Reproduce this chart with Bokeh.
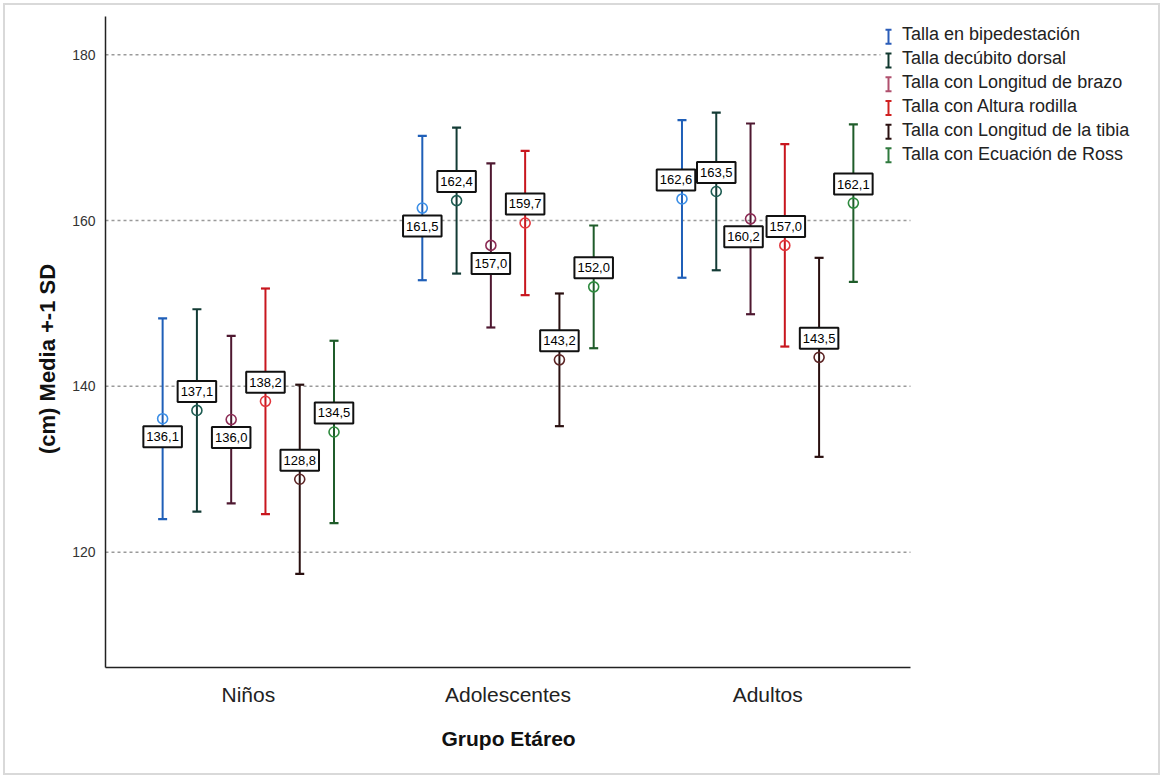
import numpy as np
from bokeh.plotting import figure
from bokeh.models import ColumnDataSource, Range1d, FixedTicker, Legend, LegendItem, Title
from bokeh.core.properties import value
from bokeh.embed import file_html
from bokeh.resources import INLINE

# --- data -------------------------------------------------------------------
grupos = ["Niños", "Adolescentes", "Adultos"]
series = [
    "Talla en bipedestación",
    "Talla decúbito dorsal",
    "Talla con Longitud de brazo",
    "Talla con Altura rodilla",
    "Talla con Longitud de la tibia",
    "Talla con Ecuación de Ross",
]

# mean height (cm) per group: Niños, Adolescentes, Adultos
media_bipedestacion = [136.1, 161.5, 162.6]
media_decubito = [137.1, 162.4, 163.5]
media_brazo = [136.0, 157.0, 160.2]
media_rodilla = [138.2, 159.7, 157.0]
media_tibia = [128.8, 143.2, 143.5]
media_ross = [134.5, 152.0, 162.1]

# standard deviation (cm) per group
sd_bipedestacion = [12.1, 8.7, 9.5]
sd_decubito = [12.2, 8.8, 9.5]
sd_brazo = [10.1, 9.9, 11.5]
sd_rodilla = [13.6, 8.7, 12.2]
sd_tibia = [11.4, 8.0, 12.0]
sd_ross = [11.0, 7.4, 9.5]

y_ticks = [120, 140, 160, 180]
x_title = "Grupo Etáreo"
y_title = "(cm) Media +-1 SD"

medias = [media_bipedestacion, media_decubito, media_brazo,
          media_rodilla, media_tibia, media_ross]
sds = [sd_bipedestacion, sd_decubito, sd_brazo, sd_rodilla, sd_tibia, sd_ross]

# --- styling ----------------------------------------------------------------
bar_colors = ["#1f5fb8", "#133b35", "#4e1830", "#c8161e", "#2a1010", "#1f5c2a"]
marker_colors = ["#3b8ee6", "#1d5c52", "#8c2c55", "#e2363c", "#5c2424", "#2e8a3e"]
legend_colors = ["#2a5cb8", "#10382f", "#b0506e", "#d02020", "#2a1010", "#2f7a3e"]

# value-label placement: +1 above the mean, -1 below (rows = series, cols = groups)
label_side = [
    [-1, -1, 1],
    [1, 1, 1],
    [-1, -1, -1],
    [1, 1, 1],
    [1, 1, 1],
    [1, 1, 1],
]
label_shift_x = [
    [0, 0, -6],
    [0, 0, 0],
    [0, 0, -7],
    [0, 0, 1],
    [0, 0, 0],
    [0, 0, 0],
]

SANS = "Liberation Sans"

PX_PER_UNIT = 805 / 3.1           # horizontal pixels per group
X0, AXIS_END = -0.55, 2.55        # visible extent of the category axis
Y0, Y1 = 106.1, 184.6
FRAME_W, FRAME_H = 1050, 651
X1 = X0 + FRAME_W / PX_PER_UNIT
step = 0.132

p = figure(
    width=1157, height=772,
    x_range=Range1d(X0, X1), y_range=Range1d(Y0, Y1),
    output_backend="svg", toolbar_location=None,
    min_border_left=100, min_border_right=1157 - 100 - FRAME_W,
    min_border_top=11, min_border_bottom=110,
    styles={"margin": "3px", "border": "2px solid #d9d9d9"},
)
p.outline_line_color = None
p.background_fill_color = "white"
p.border_fill_color = "white"

# axes
p.xaxis.ticker = FixedTicker(ticks=list(range(len(grupos))))
p.xaxis.major_label_overrides = {i: g for i, g in enumerate(grupos)}
p.xaxis.bounds = (X0, AXIS_END)
p.yaxis.ticker = FixedTicker(ticks=y_ticks)
for ax in (p.xaxis, p.yaxis):
    ax.axis_line_color = "#222222"
    ax.axis_line_width = 1.5
    ax.major_tick_line_color = None
    ax.minor_tick_line_color = None

p.xaxis.major_label_text_font = SANS
p.xaxis.major_label_text_font_size = "21px"
p.xaxis.major_label_text_color = "#222222"
p.xaxis.major_label_standoff = 9

p.yaxis.major_label_text_font = SANS
p.yaxis.major_label_text_font_size = "14px"
p.yaxis.major_label_text_color = "#333333"
p.yaxis.major_label_standoff = 4

p.xgrid.grid_line_color = None
p.ygrid.grid_line_color = None

# axis titles, centred on the drawn part of each axis
# (left-aligned titles shifted by half of their approximate rendered length)
axis_mid_px = (AXIS_END - X0) * PX_PER_UNIT / 2
x_title_len, y_title_len = 133, 194
p.add_layout(Title(text=x_title, align="left", offset=axis_mid_px - x_title_len / 2,
                   standoff=32, text_font=SANS, text_font_size="21px",
                   text_font_style="bold", text_color="#111111"), "below")
p.add_layout(Title(text=y_title, align="left", offset=FRAME_H / 2 - 15 - y_title_len / 2,
                   standoff=20, text_font=SANS, text_font_size="22px",
                   text_font_style="bold", text_color="#111111"), "left")

px_y = FRAME_H / (Y1 - Y0)

# legend geometry (frame pixels, from the top-left of the frame)
leg_top = 10
item_h, item_gap = 20.7, 3
icon_cx = 783
leg_left = icon_cx - 6
leg_h = len(series) * item_h + (len(series) - 1) * item_gap
leg_y_hi = Y1 - leg_top / px_y
leg_y_lo = Y1 - (leg_top + leg_h) / px_y

# dotted horizontal grid lines, stopping at the end of the category axis
# (or at the legend, where they run behind it)
g_end = [X0 + (leg_left - 2) / PX_PER_UNIT if leg_y_lo <= t <= leg_y_hi else AXIS_END
         for t in y_ticks]
p.segment(x0=[X0] * len(y_ticks), y0=y_ticks, x1=g_end, y1=y_ticks,
          line_color="#9a9a9a", line_dash="3 3", line_width=1.5)

# error bars, caps and means
lab_x, lab_y, lab_txt, lab_dx, lab_dy = [], [], [], [], []
for j, (m, s) in enumerate(zip(medias, sds)):
    xs = [g + (j - 2.5) * step for g in range(len(grupos))]
    m = np.array(m)
    s = np.array(s)
    src = ColumnDataSource(dict(x=xs, mean=m, lower=m - s, upper=m + s))
    c = bar_colors[j]
    p.segment(x0="x", y0="lower", x1="x", y1="upper", source=src,
              line_color=c, line_width=2)
    p.scatter(x="x", y="upper", source=src, marker="dash", size=9,
              line_color=c, line_width=2.2)
    p.scatter(x="x", y="lower", source=src, marker="dash", size=9,
              line_color=c, line_width=2.2)
    p.scatter(x="x", y="mean", source=src, marker="circle", size=10,
              line_color=marker_colors[j], line_width=1.6, fill_color=None)
    for g in range(len(grupos)):
        lab_x.append(xs[g])
        lab_y.append(m[g])
        lab_txt.append(f"{m[g]:.1f}".replace(".", ","))
        lab_dx.append(label_shift_x[j][g])
        lab_dy.append(-19 if label_side[j][g] > 0 else 18)

lab_src = ColumnDataSource(dict(x=lab_x, y=lab_y, text=lab_txt, dx=lab_dx, dy=lab_dy))
p.text(x="x", y="y", text="text", source=lab_src, x_offset="dx", y_offset="dy",
       text_align="center", text_baseline="middle",
       text_font=value(SANS), text_font_size="13px", text_color="#000000",
       background_fill_color="white", border_line_color="#111111",
       border_line_width=2, padding=dict(left=3, right=3, top=6, bottom=6))

# legend: text entries from a Legend, "I" icons drawn as small error bars
items = []
for j, name in enumerate(series):
    dummy = p.scatter(x=[], y=[], marker="circle", size=1,
                      line_alpha=0, fill_alpha=0)
    items.append(LegendItem(label=name, renderers=[dummy]))
legend = Legend(items=items, location=(leg_left, FRAME_H - leg_top - leg_h),
                padding=0, margin=0, spacing=item_gap,
                glyph_width=12, glyph_height=20, label_height=20,
                label_standoff=8, label_text_font=SANS, label_text_font_size="18px",
                label_text_color="#222222", background_fill_alpha=0,
                border_line_color=None)
p.add_layout(legend)

ix = X0 + icon_cx / PX_PER_UNIT
icon_src = dict(x=[], top=[], bot=[], c=[])
for j in range(len(series)):
    cy = leg_top + item_h / 2 + j * (item_h + item_gap)
    yc = Y1 - cy / px_y
    icon_src["x"].append(ix)
    icon_src["top"].append(yc + 7 / px_y)
    icon_src["bot"].append(yc - 7 / px_y)
    icon_src["c"].append(legend_colors[j])
isrc = ColumnDataSource(icon_src)
p.segment(x0="x", y0="bot", x1="x", y1="top", source=isrc, line_color="c", line_width=2)
p.scatter(x="x", y="top", source=isrc, marker="dash", size=6, line_color="c", line_width=2)
p.scatter(x="x", y="bot", source=isrc, marker="dash", size=6, line_color="c", line_width=2)

open("out.html", "w").write(file_html(p, INLINE))
